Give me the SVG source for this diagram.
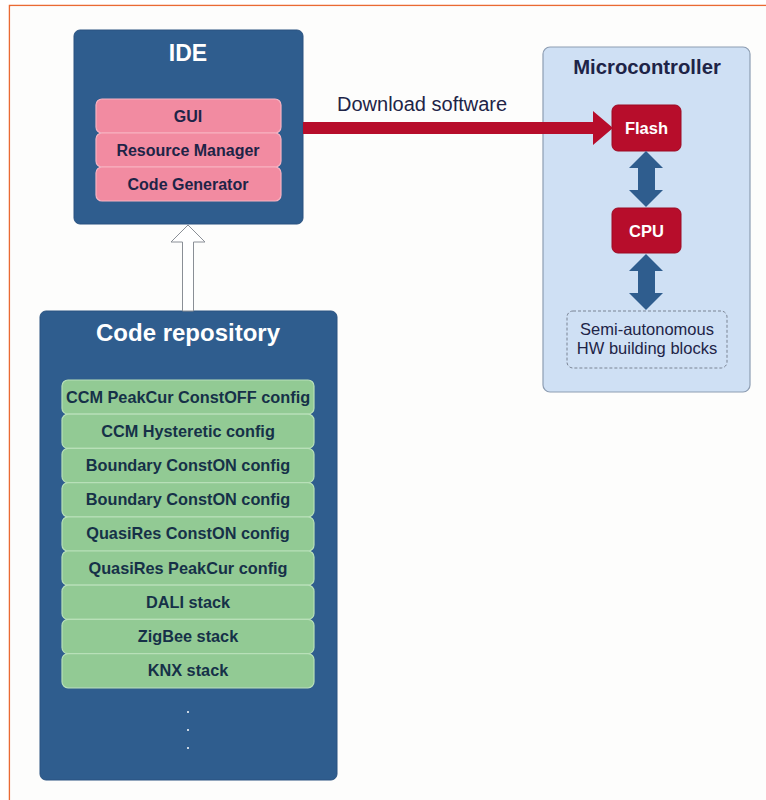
<svg xmlns="http://www.w3.org/2000/svg" width="766" height="800" viewBox="0 0 766 800">
<style>
.t{font-family:"Liberation Sans",Arial,sans-serif;font-weight:bold;text-anchor:middle}
.blue{fill:#2f5d8e;stroke:#2a5280;stroke-width:1}
.pink{fill:#f28ba1;stroke:#f7b3c2;stroke-width:1.2}
.pt{font-size:16px;fill:#1e2447}
.green{fill:#92ca94;stroke:#b8e0b8;stroke-width:1.2}
.gt{font-size:16.3px;fill:#163148}
.red{fill:#b70d2b;stroke:#9c0a22;stroke-width:1}
.rt{font-size:16.5px;fill:#ffffff}
.barrow{fill:#2f5d8e}
.n{font-family:"Liberation Sans",Arial,sans-serif;fill:#1e2447}
</style>
<rect x="0" y="0" width="766" height="800" fill="#ffffff"/>
<path d="M9.5,800 V5.5 H766" fill="none" stroke="#ea6a33" stroke-width="1.5"/>
<rect x="10.3" y="6.3" width="756" height="794" fill="#fdfdfc"/>

<g id="ide">
<rect class="blue" x="74" y="30" width="229" height="194" rx="6"/>
<text class="t" x="188" y="61" font-size="23" fill="#ffffff">IDE</text>
</g>
<g id="gui"><rect class="pink" x="96" y="99" width="185" height="34" rx="6"/><text class="t pt" x="188" y="121.5">GUI</text></g>
<g id="resource-manager"><rect class="pink" x="96" y="133" width="185" height="34" rx="6"/><text class="t pt" x="188" y="155.5">Resource Manager</text></g>
<g id="code-generator"><rect class="pink" x="96" y="167" width="185" height="34" rx="6"/><text class="t pt" x="188" y="189.5">Code Generator</text></g>

<g id="microcontroller">
<rect x="543" y="47" width="207" height="345" rx="7" fill="#cfe0f4" stroke="#8d9db2" stroke-width="1.2"/>
<text class="t" x="647" y="74" font-size="20.3" fill="#1e2447">Microcontroller</text>
</g>
<g id="flash"><rect class="red" x="612" y="105" width="69" height="46" rx="6"/><text class="t rt" x="646.5" y="134">Flash</text></g>
<g id="cpu"><rect class="red" x="612" y="208" width="69" height="45" rx="6"/><text class="t rt" x="646.5" y="236.5">CPU</text></g>
<g id="hw-blocks">
<rect x="567" y="311" width="160" height="57" rx="6" fill="none" stroke="#7b8494" stroke-width="1" stroke-dasharray="3,2"/>
<text class="n" x="647" y="335" font-size="16.5" text-anchor="middle">Semi-autonomous</text>
<text class="n" x="647" y="354" font-size="16.5" text-anchor="middle">HW building blocks</text>
</g>

<g id="code-repository">
<rect class="blue" x="40" y="311" width="297" height="469" rx="6"/>
<text class="t" x="188" y="341" font-size="24" fill="#ffffff">Code repository</text>
<circle cx="188" cy="712" r="1" fill="#ffffff"/>
<circle cx="188" cy="730" r="1" fill="#ffffff"/>
<circle cx="188" cy="748" r="1" fill="#ffffff"/>
</g>
<g id="r1"><rect class="green" x="62" y="380" width="252" height="34.2" rx="6"/><text class="t gt" x="188" y="402.5">CCM PeakCur ConstOFF config</text></g>
<g id="r2"><rect class="green" x="62" y="414.2" width="252" height="34.2" rx="6"/><text class="t gt" x="188" y="436.7">CCM Hysteretic config</text></g>
<g id="r3"><rect class="green" x="62" y="448.4" width="252" height="34.2" rx="6"/><text class="t gt" x="188" y="470.9">Boundary ConstON config</text></g>
<g id="r4"><rect class="green" x="62" y="482.6" width="252" height="34.2" rx="6"/><text class="t gt" x="188" y="505.1">Boundary ConstON config</text></g>
<g id="r5"><rect class="green" x="62" y="516.8" width="252" height="34.2" rx="6"/><text class="t gt" x="188" y="539.3">QuasiRes ConstON config</text></g>
<g id="r6"><rect class="green" x="62" y="551" width="252" height="34.2" rx="6"/><text class="t gt" x="188" y="573.5">QuasiRes PeakCur config</text></g>
<g id="r7"><rect class="green" x="62" y="585.2" width="252" height="34.2" rx="6"/><text class="t gt" x="188" y="607.7">DALI stack</text></g>
<g id="r8"><rect class="green" x="62" y="619.4" width="252" height="34.2" rx="6"/><text class="t gt" x="188" y="641.9">ZigBee stack</text></g>
<g id="r9"><rect class="green" x="62" y="653.6" width="252" height="34.2" rx="6"/><text class="t gt" x="188" y="676.1">KNX stack</text></g>

<g id="connectors">
<polygon points="303,122 593,122 593,111 613,128 593,145 593,134 303,134" fill="#b70d2b"/>
<text class="n" x="337" y="111" font-size="20">Download software</text>
<polygon class="barrow" points="646,151 663,168 655,168 655,190 663,190 646,207 629,190 638,190 638,168 629,168"/>
<polygon class="barrow" points="646,254 663,271 655,271 655,293 663,293 646,310 629,293 638,293 638,271 629,271"/>
<polygon points="188,225 205,242 193.5,242 193.5,311 182.5,311 182.5,242 171,242" fill="#ffffff" stroke="#8a8f96" stroke-width="1"/>
</g>
</svg>
